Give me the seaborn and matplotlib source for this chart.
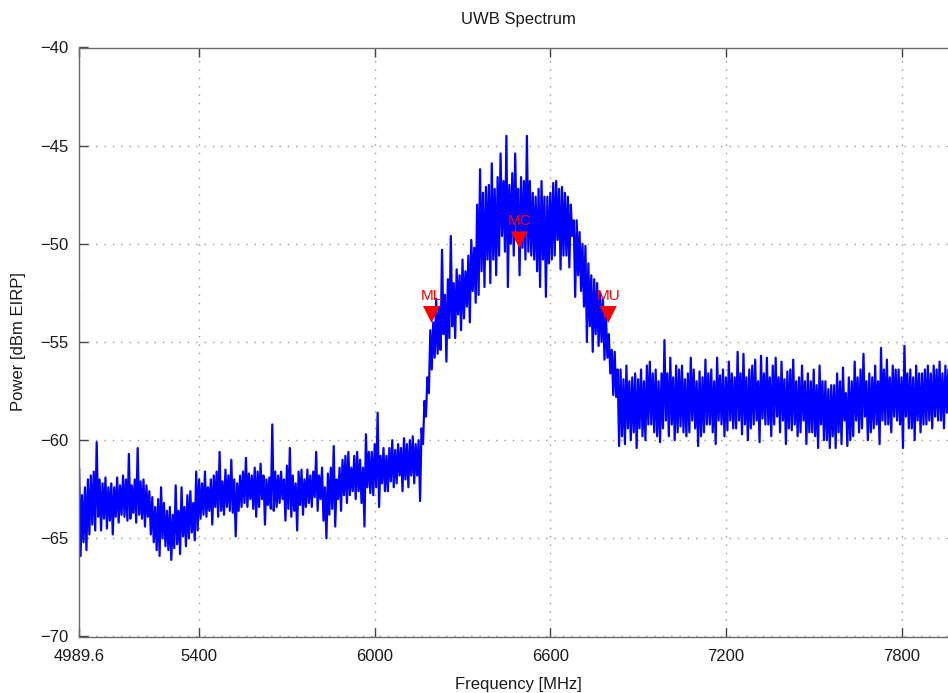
import numpy as np
import pandas as pd
import matplotlib
matplotlib.use("Agg")
import matplotlib.pyplot as plt
import seaborn as sns

# Measured trace: one reading every 5 MHz starting at 4990 MHz, in dBm EIRP
freq_start_mhz = 4990.0
freq_step_mhz = 5.0
power_dbm = [
    -61.4, -65.9, -62.8, -65.2, -62.4, -65.6, -62.0, -64.8, -61.8, -64.3,
    -61.6, -64.6, -60.1, -63.9, -62.0, -64.6, -62.2, -64.0, -61.9, -64.5,
    -62.4, -64.1, -62.2, -64.8, -62.4, -63.9, -61.9, -64.2, -62.3, -63.8,
    -61.8, -63.9, -62.0, -64.1, -60.7, -64.0, -62.3, -63.7, -62.0, -64.2,
    -60.4, -63.8, -62.1, -64.0, -62.0, -64.4, -62.3, -63.9, -62.6, -64.8,
    -62.9, -65.2, -63.4, -65.6, -63.0, -65.9, -62.4, -65.0, -63.2, -65.4,
    -63.6, -65.6, -63.4, -66.1, -63.8, -65.5, -62.3, -65.3, -63.6, -65.8,
    -62.4, -64.9, -63.4, -65.4, -62.8, -65.0, -62.6, -64.7, -63.2, -65.1,
    -61.6, -64.6, -62.0, -64.0, -62.2, -63.8, -61.6, -63.9, -62.4, -63.6,
    -62.0, -64.3, -61.8, -63.4, -61.6, -63.9, -60.6, -63.6, -62.1, -63.8,
    -61.5, -63.4, -61.8, -63.6, -61.0, -63.7, -62.0, -64.9, -62.2, -63.6,
    -61.8, -63.4, -61.6, -63.2, -60.9, -63.4, -61.7, -63.0, -61.8, -63.5,
    -61.4, -63.9, -61.6, -63.4, -61.2, -63.0, -61.8, -64.3, -62.0, -63.3,
    -61.9, -63.5, -59.2, -63.6, -61.6, -63.4, -61.8, -63.2, -61.6, -63.0,
    -62.0, -64.1, -61.3, -63.5, -60.4, -63.9, -61.8, -63.6, -62.2, -64.6,
    -61.6, -63.3, -61.5, -63.8, -62.0, -63.4, -61.5, -63.2, -61.8, -63.4,
    -61.6, -62.9, -60.6, -63.6, -61.8, -63.0, -61.4, -64.1, -62.4, -65.0,
    -61.7, -63.8, -61.4, -63.5, -60.3, -64.4, -62.0, -63.0, -61.4, -63.6,
    -61.0, -62.8, -60.8, -63.2, -60.6, -62.8, -61.4, -62.6, -60.8, -63.0,
    -60.6, -62.6, -61.0, -63.2, -61.4, -64.4, -59.7, -62.4, -60.6, -62.7,
    -60.6, -62.8, -60.2, -62.4, -58.6, -63.4, -60.8, -62.2, -60.4, -62.6,
    -60.8, -62.6, -60.4, -62.1, -60.0, -62.4, -60.5, -62.2, -60.2, -61.8,
    -60.4, -62.6, -59.9, -62.0, -60.2, -62.4, -60.0, -61.8, -59.8, -62.2,
    -60.2, -61.8, -60.0, -63.1, -59.4, -60.2, -58.0, -58.8, -56.8, -57.6,
    -54.4, -56.4, -54.0, -55.8, -52.8, -55.6, -53.2, -55.4, -50.3, -54.6,
    -52.6, -56.0, -51.8, -54.8, -49.6, -54.2, -52.0, -54.8, -51.3, -53.6,
    -51.6, -54.4, -50.8, -53.8, -51.4, -53.2, -50.6, -54.0, -49.8, -52.4,
    -50.2, -53.0, -48.0, -52.6, -46.2, -51.4, -47.4, -52.2, -47.1, -50.8,
    -47.0, -52.0, -45.9, -50.8, -47.2, -51.6, -46.6, -50.6, -45.4, -49.6,
    -46.8, -50.4, -44.5, -52.2, -47.0, -50.0, -46.4, -50.6, -45.4, -49.4,
    -47.2, -51.6, -46.6, -50.2, -46.8, -50.8, -44.5, -50.4, -46.8, -50.6,
    -47.4, -50.8, -47.6, -51.4, -47.2, -52.2, -46.8, -50.8, -47.6, -52.7,
    -47.6, -51.0, -47.4, -50.8, -46.9, -50.6, -46.8, -49.8, -47.2, -51.3,
    -47.1, -50.6, -47.4, -50.6, -47.6, -51.2, -48.0, -49.6, -48.8, -52.7,
    -48.8, -51.6, -49.4, -52.4, -50.0, -53.2, -50.1, -55.0, -51.0, -54.2,
    -51.6, -55.5, -51.8, -54.6, -52.0, -55.2, -52.5, -55.0, -52.8, -55.9,
    -53.6, -55.8, -54.6, -56.6, -55.4, -57.7, -55.5, -57.8, -56.4, -60.3,
    -56.4, -59.8, -56.9, -60.2, -56.2, -59.4, -57.0, -60.0, -56.8, -59.6,
    -56.6, -60.4, -56.9, -59.4, -56.4, -59.8, -57.0, -60.0, -56.2, -59.2,
    -56.0, -59.2, -56.6, -59.6, -56.4, -59.8, -57.0, -60.1, -56.6, -59.4,
    -54.9, -59.0, -56.6, -59.8, -55.8, -59.2, -56.8, -60.0, -56.2, -59.6,
    -56.4, -59.3, -56.2, -59.6, -56.9, -59.8, -56.6, -59.6, -55.8, -59.0,
    -56.4, -59.4, -57.0, -60.3, -56.5, -59.8, -56.8, -59.6, -55.9, -59.2,
    -56.6, -59.2, -56.4, -59.6, -57.0, -60.2, -55.8, -59.0, -56.7, -59.2,
    -56.4, -59.8, -56.8, -59.5, -56.0, -59.0, -56.6, -59.4, -56.8, -59.4,
    -55.5, -59.0, -56.6, -59.7, -55.6, -59.2, -56.8, -60.0, -56.4, -59.4,
    -56.2, -59.2, -55.9, -59.0, -57.0, -60.1, -55.7, -58.9, -56.6, -59.2,
    -55.8, -59.2, -56.8, -59.8, -56.2, -59.2, -55.8, -58.8, -56.8, -59.6,
    -56.0, -59.0, -56.9, -60.2, -56.5, -59.4, -56.4, -59.5, -55.9, -59.2,
    -57.0, -59.8, -56.8, -59.6, -56.2, -59.0, -57.0, -60.2, -56.6, -59.6,
    -57.0, -59.6, -56.4, -59.8, -57.2, -60.4, -56.2, -59.2, -57.0, -60.0,
    -57.0, -60.0, -57.4, -60.4, -57.2, -59.8, -57.2, -60.4, -56.6, -59.6,
    -57.0, -60.2, -56.3, -59.0, -57.6, -60.3, -56.8, -60.0, -57.0, -59.8,
    -56.0, -59.0, -56.8, -59.6, -56.4, -59.4, -55.6, -58.8, -57.0, -60.0,
    -56.6, -59.6, -56.8, -59.4, -56.2, -59.2, -57.0, -60.2, -55.3, -59.0,
    -56.4, -59.2, -55.9, -59.2, -56.8, -59.6, -56.2, -58.8, -56.4, -59.0,
    -56.4, -59.2, -56.8, -60.4, -55.2, -58.8, -56.6, -59.4, -56.4, -59.4,
    -56.8, -60.0, -56.2, -59.0, -56.6, -59.6, -56.6, -59.2, -56.4, -59.2,
    -56.2, -59.0, -56.6, -59.4, -56.2, -58.8, -56.4, -59.0, -56.0, -59.0,
    -56.6, -59.4, -56.2, -58.6, -56.4,
]

# Band markers: lower edge, centre, upper edge
marker_names = ["ML", "MC", "MU"]
marker_freq_mhz = [6194.0, 6494.0, 6798.0]
marker_power_dbm = [-53.6, -49.8, -53.6]

x_span_mhz = (4989.6, 7989.6)
y_span_dbm = (-70, -40)
x_ticks = [4989.6, 5400, 6000, 6600, 7200, 7800]
x_tick_labels = ["4989.6", "5400", "6000", "6600", "7200", "7800"]
y_ticks = [-70, -65, -60, -55, -50, -45, -40]

freq_mhz = freq_start_mhz + freq_step_mhz * np.arange(len(power_dbm))
trace = pd.DataFrame({"freq": freq_mhz, "power": power_dbm})
markers = pd.DataFrame({"name": marker_names, "freq": marker_freq_mhz,
                        "power": marker_power_dbm})

sns.set_theme(style="white")
plt.rcParams["font.family"] = ["Liberation Sans", "DejaVu Sans"]
plt.rcParams["axes.unicode_minus"] = True

W, H = 948, 693
fig = plt.figure(figsize=(W / 100, H / 100), dpi=100)
ax = fig.add_axes([79 / W, 56.5 / H, 878 / W, 589 / H])

sns.lineplot(data=trace, x="freq", y="power", ax=ax, color="#0000ff",
             linewidth=1.6, sort=False, estimator=None)
sns.scatterplot(data=markers, x="freq", y="power", ax=ax, marker="v",
                s=150, color="#ff0000", edgecolor="none", linewidth=0,
                zorder=5)
for _, row in markers.iterrows():
    ax.annotate(row["name"], (row["freq"], row["power"]),
                textcoords="offset points", xytext=(0, 10.5),
                ha="center", va="baseline", color="#ff0000", fontsize=11,
                zorder=6)

ax.set_xlim(*x_span_mhz)
ax.set_ylim(*y_span_dbm)
ax.set_xticks(x_ticks)
ax.set_xticklabels(x_tick_labels)
ax.set_yticks(y_ticks)

ax.grid(True, linestyle=(0, (1, 5)), color="#9a9a9a", linewidth=1)
for side in ax.spines.values():
    side.set_visible(True)
    side.set_color("#6a6a6a")
    side.set_linewidth(1.0)
ax.tick_params(axis="both", direction="in", length=6.5, width=1,
               color="#444444", labelsize=12, labelcolor="#1a1a1a",
               top=True, right=True, bottom=True, left=True)
ax.tick_params(axis="x", pad=9)
ax.tick_params(axis="y", pad=7.5)

ax.set_title("UWB Spectrum", fontsize=12, color="#1a1a1a", pad=17)
ax.set_xlabel("Frequency [MHz]", fontsize=12, color="#1a1a1a", labelpad=9)
ax.set_ylabel("Power [dBm EIRP]", fontsize=12, color="#1a1a1a", labelpad=10)

fig.savefig("out.png", dpi=100)
